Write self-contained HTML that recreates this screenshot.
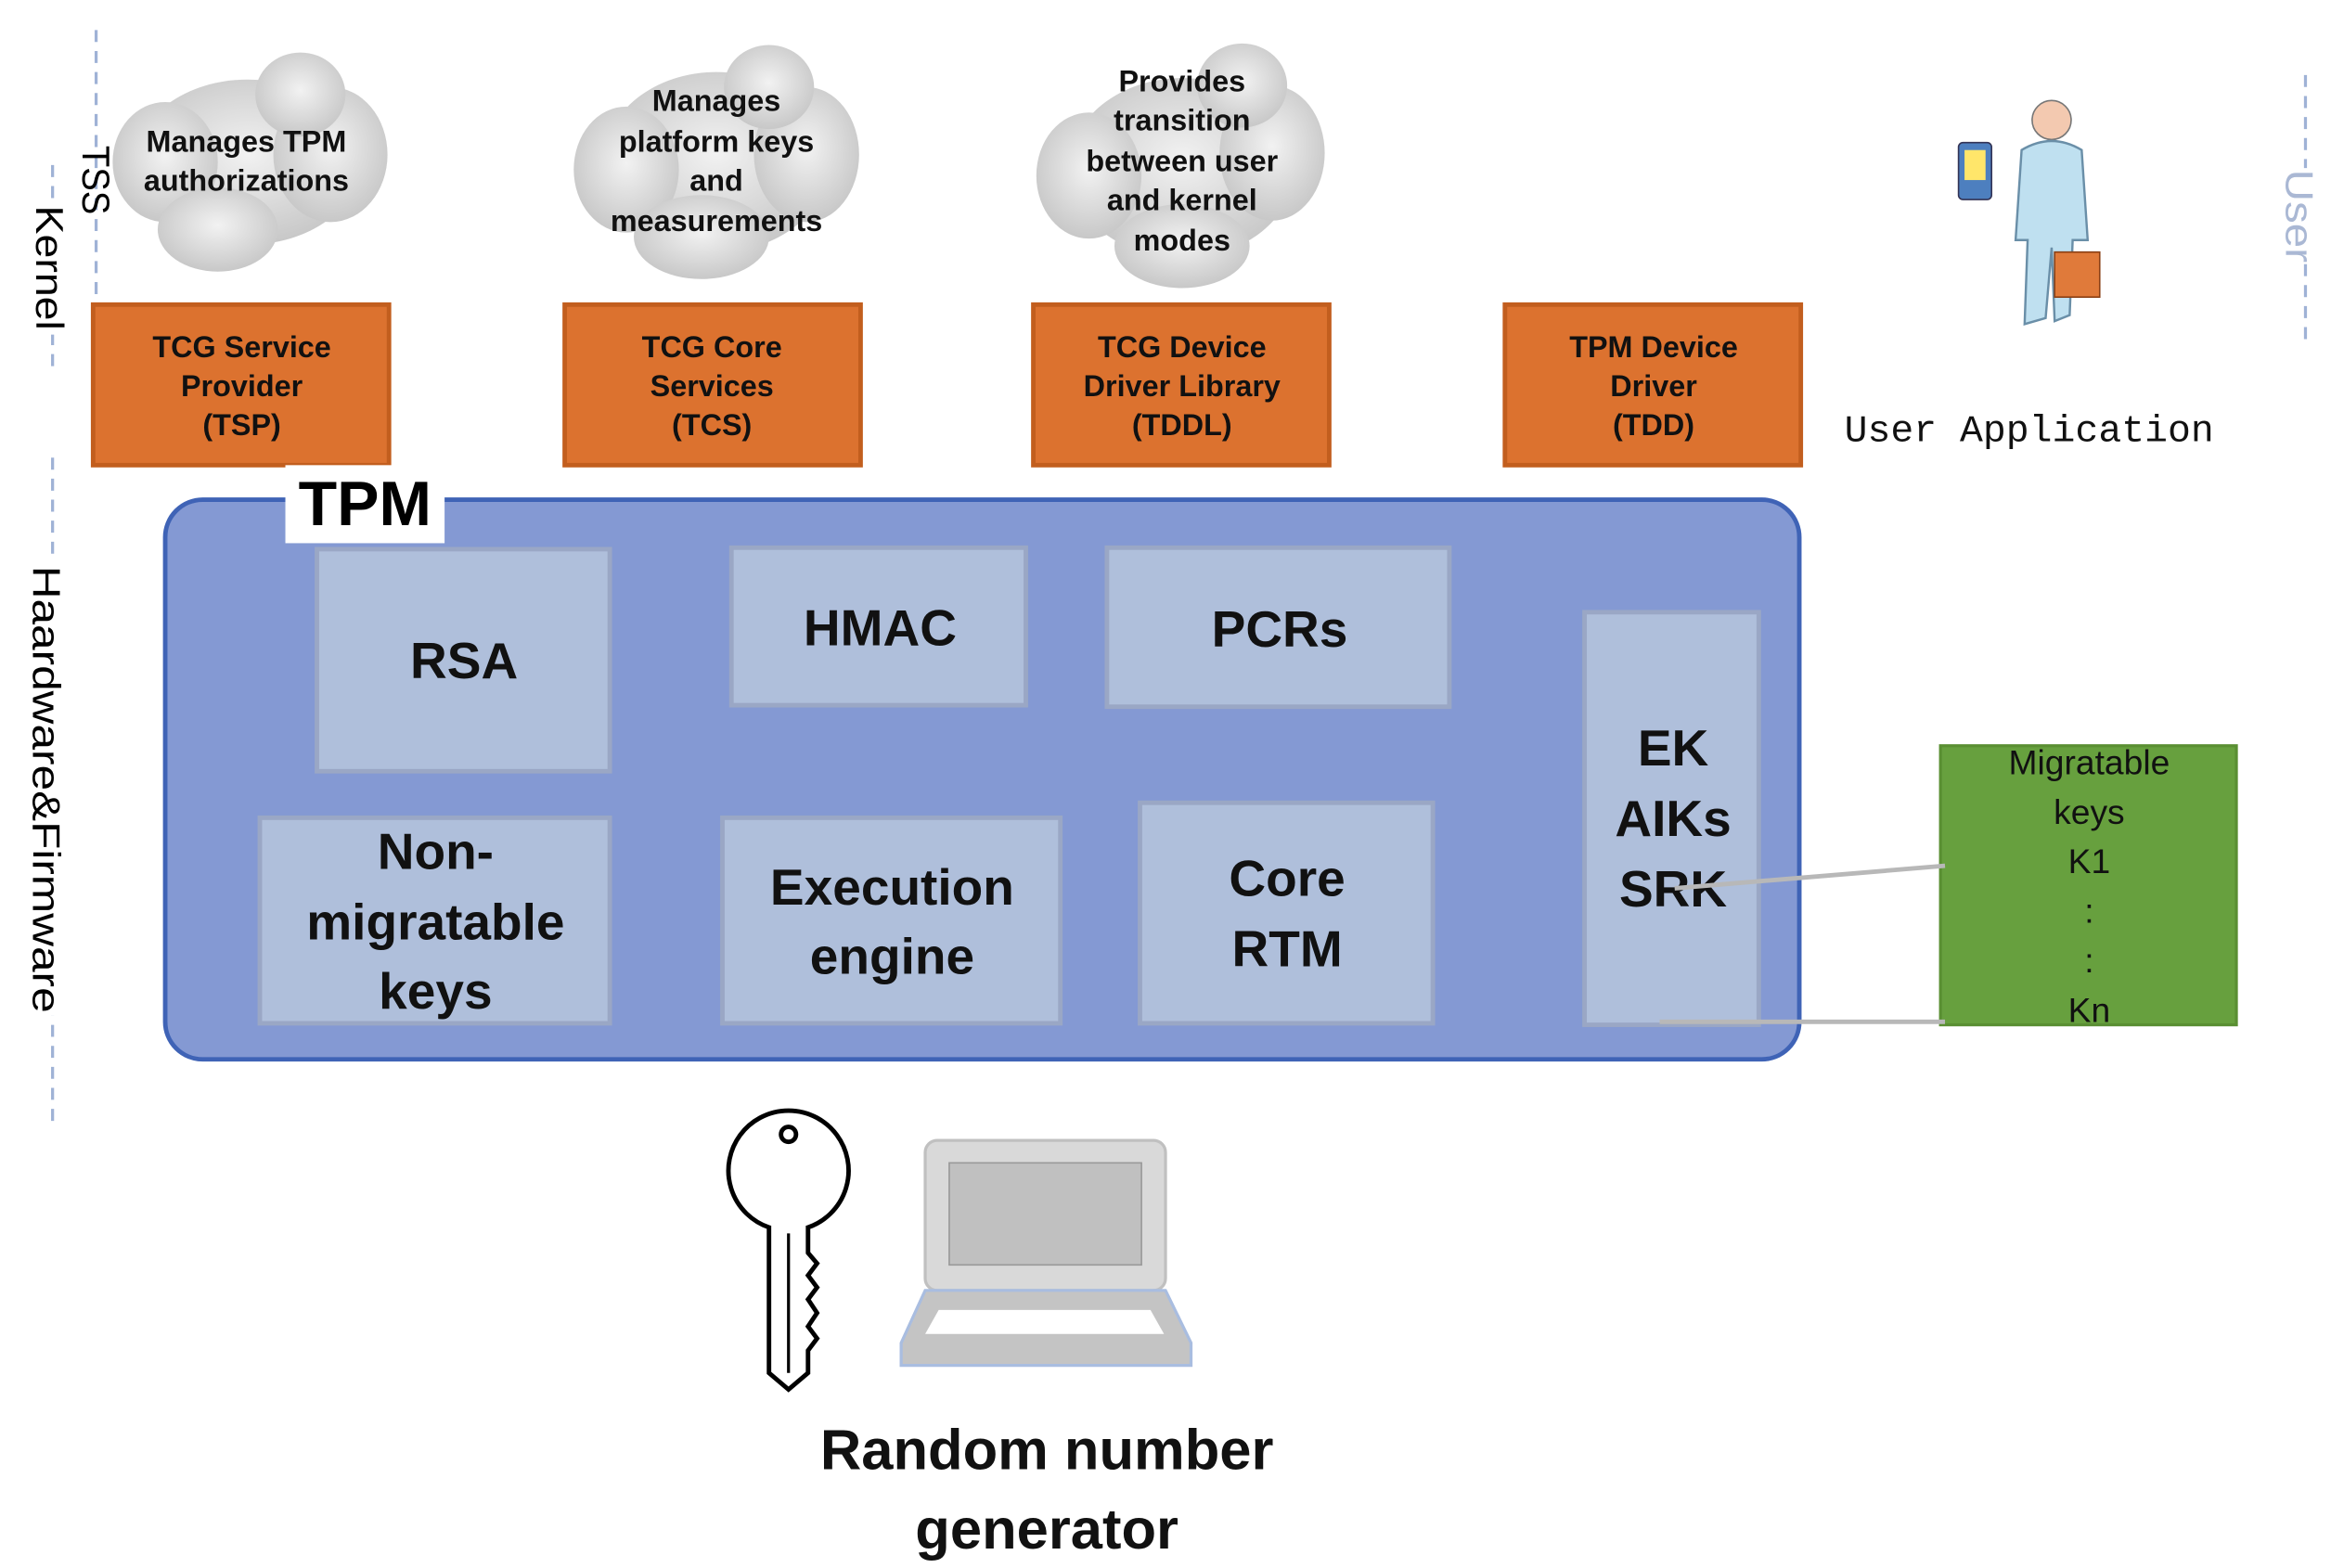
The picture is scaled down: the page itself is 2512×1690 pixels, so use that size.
<!DOCTYPE html>
<html><head><meta charset="utf-8"><style>html,body{margin:0;padding:0;background:#fff;overflow:hidden}svg{display:block}</style></head>
<body>
<svg width="2512" height="1690" viewBox="0 0 1552 1045" preserveAspectRatio="none" xmlns="http://www.w3.org/2000/svg" font-family="'Liberation Sans', sans-serif">
<rect width="1552" height="1045" fill="#fff"/>
<g stroke="#9fb2d6" stroke-width="2" stroke-dasharray="8,6" fill="none">
<line x1="64" y1="20" x2="64" y2="212"/>
<line x1="35" y1="110" x2="35" y2="245"/>
<line x1="35" y1="305" x2="35" y2="748"/>
<line x1="1535" y1="50" x2="1535" y2="230"/>
</g>
<g font-size="26" fill="#000">
<text transform="translate(55,97) rotate(90)" textLength="46" lengthAdjust="spacingAndGlyphs">TSS</text>
<rect x="24" y="137" width="24" height="86" fill="#fff"/>
<text transform="translate(24,137) rotate(90)" textLength="83" lengthAdjust="spacingAndGlyphs">Kernel</text>
<rect x="20" y="375" width="30" height="302" fill="#fff"/>
<text transform="translate(22,377) rotate(90)" textLength="298" lengthAdjust="spacingAndGlyphs">Haardware&amp;Firmware</text>
<rect x="1522" y="112" width="26" height="64" fill="#fff"/>
<text transform="translate(1522,113) rotate(90)" fill="#aab8d4" textLength="62" lengthAdjust="spacingAndGlyphs">User</text>
</g>
<defs><radialGradient id="cg" cx="50%" cy="45%" r="60%"><stop offset="0" stop-color="#f2f2f2"/><stop offset="1" stop-color="#c4c4c4"/></radialGradient></defs>
<g fill="url(#cg)">
<g transform="translate(165,108)"><ellipse cx="0" cy="0" rx="75" ry="55"/><ellipse cx="-55" cy="0" rx="35" ry="40"/><ellipse cx="55" cy="-5" rx="38" ry="45"/><ellipse cx="35" cy="-45" rx="30" ry="28"/><ellipse cx="-20" cy="45" rx="40" ry="28"/></g>
<g transform="translate(477,108)"><ellipse cx="0" cy="0" rx="75" ry="60"/><ellipse cx="-60" cy="5" rx="35" ry="42"/><ellipse cx="60" cy="-5" rx="35" ry="45"/><ellipse cx="35" cy="-50" rx="30" ry="28"/><ellipse cx="-10" cy="50" rx="45" ry="28"/></g>
<g transform="translate(787,112)"><ellipse cx="0" cy="0" rx="75" ry="60"/><ellipse cx="-62" cy="5" rx="35" ry="42"/><ellipse cx="60" cy="-10" rx="35" ry="45"/><ellipse cx="40" cy="-55" rx="30" ry="28"/><ellipse cx="0" cy="52" rx="45" ry="28"/></g>
</g>
<g font-size="20" font-weight="bold" text-anchor="middle" fill="#111">
<text x="164" y="101">Manages TPM</text><text x="164" y="127">authorizations</text>
<text x="477" y="74">Manages</text><text x="477" y="101">platform keys</text><text x="477" y="127">and</text><text x="477" y="154">measurements</text>
<text x="787" y="61">Provides</text><text x="787" y="87">transition</text><text x="787" y="114">between user</text><text x="787" y="140">and kernel</text><text x="787" y="167">modes</text>
</g>
<g fill="#DC722F" stroke="#C25E1E" stroke-width="3">
<rect x="62" y="203" width="197" height="107"/><rect x="376" y="203" width="197" height="107"/><rect x="688" y="203" width="197" height="107"/><rect x="1002" y="203" width="197" height="107"/>
</g>
<g font-size="20" font-weight="bold" text-anchor="middle" fill="#111">
<text x="161" y="238">TCG Service</text><text x="161" y="264">Provider</text><text x="161" y="290">(TSP)</text>
<text x="474" y="238">TCG Core</text><text x="474" y="264">Services</text><text x="474" y="290">(TCS)</text>
<text x="787" y="238">TCG Device</text><text x="787" y="264">Driver Library</text><text x="787" y="290">(TDDL)</text>
<text x="1101" y="238">TPM Device</text><text x="1101" y="264">Driver</text><text x="1101" y="290">(TDD)</text>
</g>
<text x="1228" y="294" font-family="'Liberation Mono', monospace" font-size="25" fill="#111" textLength="246" lengthAdjust="spacingAndGlyphs">User Application</text>
<g>
<circle cx="1366" cy="80" r="13" fill="#f3c9b0" stroke="#777"/>
<path d="M1346 100 Q1366 88 1386 100 L1390 160 L1380 160 L1378 210 L1368 214 L1366 165 L1362 212 L1348 216 L1350 160 L1342 160 Z" fill="#bfe0f0" stroke="#6a8fa8" stroke-width="1.5"/>
<rect x="1304" y="95" width="22" height="38" rx="3" fill="#4d7fbf" stroke="#335"/>
<rect x="1308" y="100" width="14" height="20" fill="#ffe66a"/>
<rect x="1368" y="168" width="30" height="30" fill="#e07a3a" stroke="#8a3f14"/>
</g>
<rect x="110" y="333" width="1088" height="373" rx="25" fill="#8499D3" stroke="#3F63B6" stroke-width="3"/>
<rect x="190" y="310" width="106" height="52" fill="#fff"/>
<text x="243" y="350" font-size="42" font-weight="bold" text-anchor="middle">TPM</text>
<g fill="#AFBFDB" stroke="#9AA7C5" stroke-width="3">
<rect x="211" y="366" width="195" height="148"/>
<rect x="487" y="365" width="196" height="105"/>
<rect x="737" y="365" width="228" height="106"/>
<rect x="1055" y="408" width="116" height="275"/>
<rect x="173" y="545" width="233" height="137"/>
<rect x="481" y="545" width="225" height="137"/>
<rect x="759" y="535" width="195" height="147"/>
</g>
<g font-size="34" font-weight="bold" text-anchor="middle" fill="#111">
<text x="309" y="452">RSA</text>
<text x="586" y="430">HMAC</text>
<text x="852" y="431">PCRs</text>
<text x="1114" y="510">EK</text><text x="1114" y="557">AIKs</text><text x="1114" y="604">SRK</text>
<text x="290" y="579">Non-</text><text x="290" y="626">migratable</text><text x="290" y="672">keys</text>
<text x="594" y="603">Execution</text><text x="594" y="649">engine</text>
<text x="857" y="597">Core</text><text x="857" y="644">RTM</text>
</g>
<rect x="1292" y="497" width="197" height="186" fill="#67A03E" stroke="#5A8F33" stroke-width="2"/>
<g font-size="23" text-anchor="middle" fill="#111">
<text x="1391" y="516">Migratable</text><text x="1391" y="549">keys</text><text x="1391" y="582">K1</text><text x="1391" y="615">:</text><text x="1391" y="648">:</text><text x="1391" y="681">Kn</text>
</g>
<g stroke="#b8b8b8" stroke-width="3"><line x1="1115" y1="592" x2="1295" y2="577"/><line x1="1105" y1="681" x2="1295" y2="681"/></g>
<g fill="#fff" stroke="#000" stroke-width="3">
<path d="M512 818 A40 40 0 1 1 538 818 L538 835 L544 842 L538 850 L544 858 L538 866 L544 875 L538 884 L544 892 L538 900 L538 915 L525 926 L512 915 Z"/>
<circle cx="525" cy="756" r="5"/>
<line x1="525" y1="822" x2="525" y2="915" stroke-width="2"/>
</g>
<g>
<rect x="616" y="760" width="160" height="100" rx="8" fill="#d9d9d9" stroke="#c0c0c0" stroke-width="2"/>
<rect x="632" y="775" width="128" height="68" fill="#c0c0c0" stroke="#999"/>
<path d="M616 860 L776 860 L793 895 L793 910 L600 910 L600 895 Z" fill="#c4c4c4" stroke="#a9bde0" stroke-width="2"/>
<path d="M625 873 L766 873 L775 889 L616 889 Z" fill="#fff"/>
</g>
<g font-size="38" font-weight="bold" text-anchor="middle" fill="#111">
<text x="697" y="979">Random number</text><text x="697" y="1032">generator</text>
</g>
</svg>
</body></html>
